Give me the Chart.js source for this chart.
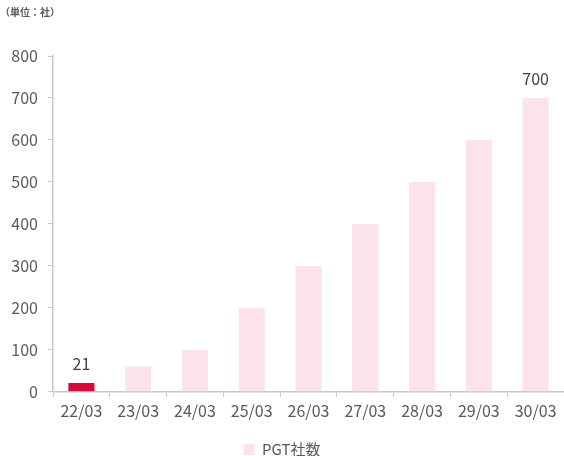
<!DOCTYPE html>
<html>
<head>
<meta charset="utf-8">
<script src="https://cdn.jsdelivr.net/npm/chart.js@4"></script>
<style>
  html, body { margin: 0; padding: 0; background: #fff; }
  #wrap { width: 564px; height: 456px; }
</style>
</head>
<body>
<div id="wrap"><canvas id="chart"></canvas></div>
<script>
const categories = ['22/03', '23/03', '24/03', '25/03', '26/03', '27/03', '28/03', '29/03', '30/03'];
const companyCounts = [21, 60, 100, 200, 300, 400, 500, 600, 700];
const labeledIndexes = [0, 8];
const yTicks = [0, 100, 200, 300, 400, 500, 600, 700, 800];

const FONT = "'Noto Sans CJK JP', 'Noto Sans', sans-serif";
const TEXT = '#595959';
const AXIS = '#c8c8c8';
const PINK = '#fbe3e9';
const RED = '#d50b3e';

const barColors = companyCounts.map((v, i) => i === 0 ? RED : PINK);

// value labels above selected bars
const valueLabels = {
  id: 'valueLabels',
  afterDatasetsDraw(chart) {
    const ctx = chart.ctx;
    const meta = chart.getDatasetMeta(0);
    ctx.save();
    ctx.font = '16px ' + FONT;
    ctx.fillStyle = '#404040';
    ctx.textAlign = 'center';
    ctx.textBaseline = 'bottom';
    labeledIndexes.forEach(i => {
      const bar = meta.data[i];
      ctx.fillText(String(companyCounts[i]), bar.x, bar.y - 11);
    });
    ctx.restore();
  }
};

new Chart(document.getElementById('chart'), {
  type: 'bar',
  data: {
    labels: categories,
    datasets: [{
      label: 'PGT社数',
      data: companyCounts,
      backgroundColor: barColors,
      barPercentage: 0.46,
      categoryPercentage: 1
    }]
  },
  options: {
    responsive: true,
    maintainAspectRatio: false,
    animation: false,
    layout: { padding: { left: 0, right: 0, top: 0, bottom: -11 } },
    plugins: {
      title: {
        display: true,
        text: '（単位：社）',
        align: 'start',
        color: TEXT,
        font: { family: FONT, size: 10 },
        padding: { top: 6, bottom: 38 }
      },
      legend: {
        position: 'bottom',
        labels: {
          color: TEXT,
          font: { family: FONT, size: 15 },
          boxWidth: 11,
          boxHeight: 11,
          padding: 2,
          generateLabels: () => [{
            text: 'PGT社数', fillStyle: PINK, strokeStyle: PINK, lineWidth: 0, fontColor: TEXT
          }]
        }
      },
      tooltip: { enabled: false }
    },
    scales: {
      x: {
        afterFit: s => { s.height += 14; },
        grid: { drawOnChartArea: false, drawTicks: true, tickLength: 5, color: AXIS },
        border: { color: AXIS, width: 1.5 },
        ticks: { color: TEXT, font: { family: FONT, size: 16 }, padding: 5, maxRotation: 0 }
      },
      y: {
        min: 0,
        max: 800,
        afterFit: s => { s.width = 53; },
        afterBuildTicks: s => { s.ticks = yTicks.map(v => ({ value: v })); },
        grid: { drawOnChartArea: false, drawTicks: true, tickLength: 5, color: AXIS },
        border: { color: AXIS, width: 1.5 },
        ticks: { color: TEXT, font: { family: FONT, size: 16 }, padding: 10 }
      }
    }
  },
  plugins: [valueLabels]
});
</script>
</body>
</html>
